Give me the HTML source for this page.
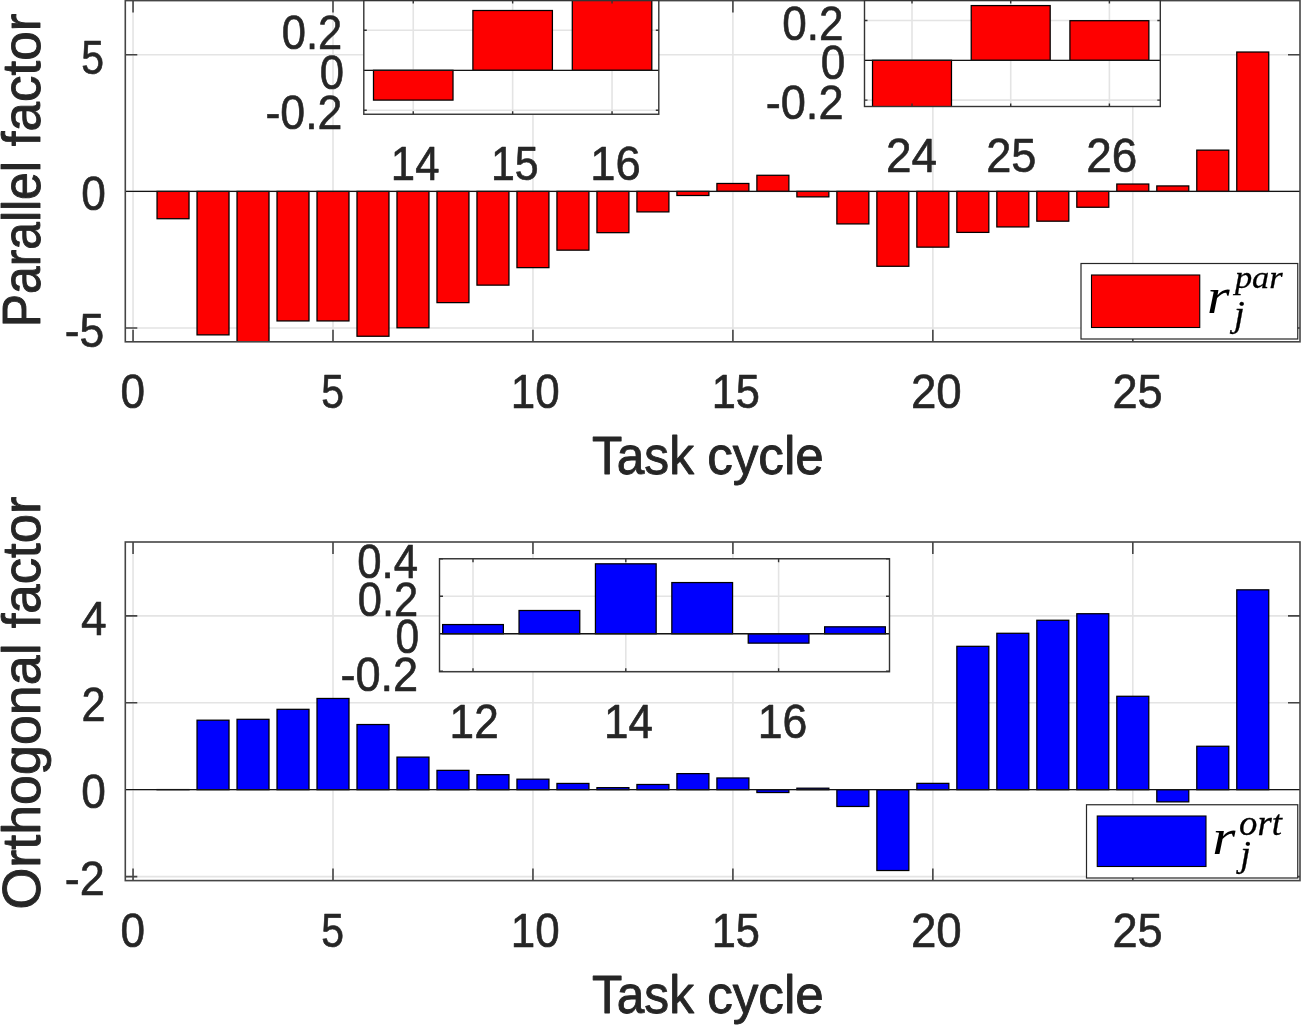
<!DOCTYPE html>
<html><head><meta charset="utf-8"><title>Parallel and orthogonal factors</title>
<style>html,body{margin:0;padding:0;background:#fff;overflow:hidden}svg{display:block}text{vector-effect:non-scaling-stroke}</style></head>
<body>
<svg width="1301" height="1025" viewBox="0 0 1301 1025" font-family='"Liberation Sans", sans-serif' fill="#262626">
<rect width="1301" height="1025" fill="#fff"/>
<clipPath id="c1"><rect x="125.30" y="0.60" width="1174.70" height="341.20"/></clipPath>
<rect x="125.30" y="0.60" width="1174.70" height="341.20" fill="#fff"/>
<path d="M133.05 0.60V341.80M333.00 0.60V341.80M532.95 0.60V341.80M732.90 0.60V341.80M932.85 0.60V341.80M1132.80 0.60V341.80M125.30 328.05H1300.00M125.30 191.40H1300.00M125.30 54.75H1300.00" stroke="#e4e4e4" stroke-width="1.60" fill="none"/>
<g clip-path="url(#c1)" fill="#fe0000" stroke="#000" stroke-width="1.25"><rect x="157.04" y="191.40" width="31.99" height="27.33"/><rect x="197.03" y="191.40" width="31.99" height="143.48"/><rect x="237.02" y="191.40" width="31.99" height="155.78"/><rect x="277.01" y="191.40" width="31.99" height="129.54"/><rect x="317.00" y="191.40" width="31.99" height="129.54"/><rect x="356.99" y="191.40" width="31.99" height="144.85"/><rect x="396.98" y="191.40" width="31.99" height="136.38"/><rect x="436.97" y="191.40" width="31.99" height="111.23"/><rect x="476.96" y="191.40" width="31.99" height="93.74"/><rect x="516.95" y="191.40" width="31.99" height="76.25"/><rect x="556.94" y="191.40" width="31.99" height="58.76"/><rect x="596.93" y="191.40" width="31.99" height="41.27"/><rect x="636.92" y="191.40" width="31.99" height="20.50"/><rect x="676.91" y="191.40" width="31.99" height="4.10"/><rect x="716.90" y="183.47" width="31.99" height="7.93"/><rect x="756.89" y="175.28" width="31.99" height="16.12"/><rect x="796.88" y="191.40" width="31.99" height="5.47"/><rect x="836.87" y="191.40" width="31.99" height="32.52"/><rect x="876.86" y="191.40" width="31.99" height="74.88"/><rect x="916.85" y="191.40" width="31.99" height="55.75"/><rect x="956.84" y="191.40" width="31.99" height="41.00"/><rect x="996.83" y="191.40" width="31.99" height="35.53"/><rect x="1036.82" y="191.40" width="31.99" height="29.79"/><rect x="1076.81" y="191.40" width="31.99" height="15.85"/><rect x="1116.80" y="184.02" width="31.99" height="7.38"/><rect x="1156.79" y="185.93" width="31.99" height="5.47"/><rect x="1196.78" y="150.13" width="31.99" height="41.27"/><rect x="1236.77" y="52.02" width="31.99" height="139.38"/></g>
<path d="M133.05 341.80v-12.00M133.05 0.60v12.00M333.00 341.80v-12.00M333.00 0.60v12.00M532.95 341.80v-12.00M532.95 0.60v12.00M732.90 341.80v-12.00M732.90 0.60v12.00M932.85 341.80v-12.00M932.85 0.60v12.00M1132.80 341.80v-12.00M1132.80 0.60v12.00M125.30 328.05h12.00M1300.00 328.05h-12.00M125.30 54.75h12.00M1300.00 54.75h-12.00" stroke="#454545" stroke-width="1.60" fill="none"/>
<path d="M125.30 191.40H1300.00" stroke="#141414" stroke-width="1.3"/>
<rect x="125.30" y="0.60" width="1174.70" height="341.20" fill="none" stroke="#454545" stroke-width="1.60"/>
<clipPath id="c2"><rect x="125.30" y="542.00" width="1174.70" height="338.60"/></clipPath>
<rect x="125.30" y="542.00" width="1174.70" height="338.60" fill="#fff"/>
<path d="M133.05 542.00V880.60M333.00 542.00V880.60M532.95 542.00V880.60M732.90 542.00V880.60M932.85 542.00V880.60M1132.80 542.00V880.60M125.30 876.60H1300.00M125.30 789.70H1300.00M125.30 702.80H1300.00M125.30 615.90H1300.00" stroke="#e4e4e4" stroke-width="1.60" fill="none"/>
<g clip-path="url(#c2)" fill="#0000fe" stroke="#000" stroke-width="1.25"><rect x="157.04" y="789.57" width="31.99" height="0.13"/><rect x="197.03" y="720.18" width="31.99" height="69.52"/><rect x="237.02" y="719.31" width="31.99" height="70.39"/><rect x="277.01" y="709.32" width="31.99" height="80.38"/><rect x="317.00" y="698.46" width="31.99" height="91.25"/><rect x="356.99" y="724.53" width="31.99" height="65.17"/><rect x="396.98" y="757.11" width="31.99" height="32.59"/><rect x="436.97" y="770.36" width="31.99" height="19.34"/><rect x="476.96" y="774.67" width="31.99" height="15.03"/><rect x="516.95" y="779.19" width="31.99" height="10.51"/><rect x="556.94" y="783.44" width="31.99" height="6.26"/><rect x="596.93" y="787.66" width="31.99" height="2.04"/><rect x="636.92" y="784.49" width="31.99" height="5.21"/><rect x="676.91" y="773.62" width="31.99" height="16.08"/><rect x="716.90" y="777.97" width="31.99" height="11.73"/><rect x="756.89" y="789.70" width="31.99" height="2.82"/><rect x="796.88" y="788.18" width="31.99" height="1.52"/><rect x="836.87" y="789.70" width="31.99" height="16.77"/><rect x="876.86" y="789.70" width="31.99" height="80.82"/><rect x="916.85" y="783.36" width="31.99" height="6.34"/><rect x="956.84" y="646.32" width="31.99" height="143.38"/><rect x="996.83" y="633.28" width="31.99" height="156.42"/><rect x="1036.82" y="620.25" width="31.99" height="169.46"/><rect x="1076.81" y="613.73" width="31.99" height="175.97"/><rect x="1116.80" y="696.28" width="31.99" height="93.42"/><rect x="1156.79" y="789.70" width="31.99" height="12.17"/><rect x="1196.78" y="746.25" width="31.99" height="43.45"/><rect x="1236.77" y="589.83" width="31.99" height="199.87"/></g>
<path d="M133.05 880.60v-12.00M133.05 542.00v12.00M333.00 880.60v-12.00M333.00 542.00v12.00M532.95 880.60v-12.00M532.95 542.00v12.00M732.90 880.60v-12.00M732.90 542.00v12.00M932.85 880.60v-12.00M932.85 542.00v12.00M1132.80 880.60v-12.00M1132.80 542.00v12.00M125.30 876.60h12.00M1300.00 876.60h-12.00M125.30 702.80h12.00M1300.00 702.80h-12.00M125.30 615.90h12.00M1300.00 615.90h-12.00" stroke="#454545" stroke-width="1.60" fill="none"/>
<path d="M125.30 789.70H1300.00" stroke="#141414" stroke-width="1.3"/>
<rect x="125.30" y="542.00" width="1174.70" height="338.60" fill="none" stroke="#454545" stroke-width="1.60"/>
<clipPath id="c3"><rect x="363.80" y="0.60" width="295.00" height="113.65"/></clipPath>
<rect x="363.80" y="0.60" width="295.00" height="113.65" fill="#fff"/>
<path d="M413.25 0.60V114.25M512.65 0.60V114.25M612.05 0.60V114.25M363.80 110.30H658.80M363.80 70.30H658.80M363.80 30.30H658.80" stroke="#e4e4e4" stroke-width="1.60" fill="none"/>
<g clip-path="url(#c3)" fill="#fe0000" stroke="#000" stroke-width="1.25"><rect x="373.49" y="70.30" width="79.52" height="29.80"/><rect x="472.89" y="10.50" width="79.52" height="59.80"/><rect x="572.29" y="-47.70" width="79.52" height="118.00"/></g>
<path d="M413.25 114.25v-3.00M413.25 0.60v3.00M512.65 114.25v-3.00M512.65 0.60v3.00M612.05 114.25v-3.00M612.05 0.60v3.00M363.80 110.30h3.00M658.80 110.30h-3.00M363.80 30.30h3.00M658.80 30.30h-3.00" stroke="#333" stroke-width="1.40" fill="none"/>
<path d="M363.80 70.30H658.80" stroke="#141414" stroke-width="1.3"/>
<rect x="363.80" y="0.60" width="295.00" height="113.65" fill="none" stroke="#333" stroke-width="1.40"/>
<clipPath id="c4"><rect x="864.50" y="0.60" width="295.80" height="105.90"/></clipPath>
<rect x="864.50" y="0.60" width="295.80" height="105.90" fill="#fff"/>
<path d="M912.00 0.60V106.50M1010.70 0.60V106.50M1109.40 0.60V106.50M864.50 100.10H1160.30M864.50 60.30H1160.30M864.50 20.50H1160.30" stroke="#e4e4e4" stroke-width="1.60" fill="none"/>
<g clip-path="url(#c4)" fill="#fe0000" stroke="#000" stroke-width="1.25"><rect x="872.52" y="60.30" width="78.96" height="115.42"/><rect x="971.22" y="5.57" width="78.96" height="54.73"/><rect x="1069.92" y="20.70" width="78.96" height="39.60"/></g>
<path d="M912.00 106.50v-3.00M912.00 0.60v3.00M1010.70 106.50v-3.00M1010.70 0.60v3.00M1109.40 106.50v-3.00M1109.40 0.60v3.00M864.50 100.10h3.00M1160.30 100.10h-3.00M864.50 20.50h3.00M1160.30 20.50h-3.00" stroke="#333" stroke-width="1.40" fill="none"/>
<path d="M864.50 60.30H1160.30" stroke="#141414" stroke-width="1.3"/>
<rect x="864.50" y="0.60" width="295.80" height="105.90" fill="none" stroke="#333" stroke-width="1.40"/>
<clipPath id="c5"><rect x="439.50" y="558.75" width="450.00" height="113.00"/></clipPath>
<rect x="439.50" y="558.75" width="450.00" height="113.00" fill="#fff"/>
<path d="M473.00 558.75V671.75M625.80 558.75V671.75M778.60 558.75V671.75M439.50 671.25H889.50M439.50 633.75H889.50M439.50 596.25H889.50M439.50 558.75H889.50" stroke="#e4e4e4" stroke-width="1.60" fill="none"/>
<g clip-path="url(#c5)" fill="#0000fe" stroke="#000" stroke-width="1.25"><rect x="442.63" y="624.56" width="60.74" height="9.19"/><rect x="519.03" y="610.50" width="60.74" height="23.25"/><rect x="595.43" y="563.81" width="60.74" height="69.94"/><rect x="671.83" y="582.56" width="60.74" height="51.19"/><rect x="748.23" y="633.75" width="60.74" height="9.38"/><rect x="824.63" y="626.81" width="60.74" height="6.94"/></g>
<path d="M473.00 671.75v-3.50M473.00 558.75v3.50M625.80 671.75v-3.50M625.80 558.75v3.50M778.60 671.75v-3.50M778.60 558.75v3.50M439.50 671.25h3.50M889.50 671.25h-3.50M439.50 596.25h3.50M889.50 596.25h-3.50M439.50 558.75h3.50M889.50 558.75h-3.50" stroke="#333" stroke-width="1.40" fill="none"/>
<path d="M439.50 633.75H889.50" stroke="#141414" stroke-width="1.3"/>
<rect x="439.50" y="558.75" width="450.00" height="113.00" fill="none" stroke="#333" stroke-width="1.40"/>
<rect x="1081.00" y="263.50" width="216.75" height="75.50" fill="#fff" stroke="#262626" stroke-width="1.2"/>
<rect x="1091.50" y="275.00" width="108.25" height="52.50" fill="#fe0000" stroke="#000" stroke-width="1.1"/>
<rect x="1086.50" y="804.75" width="211.25" height="73.25" fill="#fff" stroke="#262626" stroke-width="1.2"/>
<rect x="1097.25" y="816.00" width="108.75" height="50.50" fill="#0000fe" stroke="#000" stroke-width="1.1"/>
<g stroke="#262626" stroke-linejoin="round">
<text transform="translate(120.47 408.30) scale(0.9304 1)" font-size="47.4" stroke-width="0.60">0</text>
<text transform="translate(321.32 408.30) scale(0.8624 1)" font-size="47.4" stroke-width="0.60">5</text>
<text transform="translate(510.85 408.30) scale(0.9273 1)" font-size="47.4" stroke-width="0.60">10</text>
<text transform="translate(711.64 408.30) scale(0.9156 1)" font-size="47.4" stroke-width="0.60">15</text>
<text transform="translate(910.96 408.30) scale(0.9641 1)" font-size="47.4" stroke-width="0.60">20</text>
<text transform="translate(1112.48 408.30) scale(0.9531 1)" font-size="47.4" stroke-width="0.60">25</text>
<text transform="translate(120.47 947.20) scale(0.9304 1)" font-size="47.4" stroke-width="0.60">0</text>
<text transform="translate(321.32 947.20) scale(0.8624 1)" font-size="47.4" stroke-width="0.60">5</text>
<text transform="translate(510.85 947.20) scale(0.9273 1)" font-size="47.4" stroke-width="0.60">10</text>
<text transform="translate(711.64 947.20) scale(0.9156 1)" font-size="47.4" stroke-width="0.60">15</text>
<text transform="translate(910.96 947.20) scale(0.9641 1)" font-size="47.4" stroke-width="0.60">20</text>
<text transform="translate(1112.48 947.20) scale(0.9531 1)" font-size="47.4" stroke-width="0.60">25</text>
<text transform="translate(81.32 73.70) scale(0.8624 1)" font-size="47.4" stroke-width="0.60">5</text>
<text transform="translate(81.22 210.20) scale(0.9325 1)" font-size="47.4" stroke-width="0.60">0</text>
<text transform="translate(64.71 346.70) scale(0.9369 1)" font-size="47.4" stroke-width="0.60">-5</text>
<text transform="translate(281.74 48.95) scale(0.9169 1)" font-size="47.4" stroke-width="0.60">0.2</text>
<text transform="translate(319.74 88.70) scale(0.9198 1)" font-size="47.4" stroke-width="0.60">0</text>
<text transform="translate(265.45 129.00) scale(0.9428 1)" font-size="47.4" stroke-width="0.60">-0.2</text>
<text transform="translate(390.87 180.00) scale(0.9222 1)" font-size="47.4" stroke-width="0.60">14</text>
<text transform="translate(490.92 180.00) scale(0.9051 1)" font-size="47.4" stroke-width="0.60">15</text>
<text transform="translate(590.26 180.00) scale(0.9574 1)" font-size="47.4" stroke-width="0.60">16</text>
<text transform="translate(782.22 40.00) scale(0.9297 1)" font-size="47.4" stroke-width="0.60">0.2</text>
<text transform="translate(820.72 79.00) scale(0.9325 1)" font-size="47.4" stroke-width="0.60">0</text>
<text transform="translate(765.69 119.20) scale(0.9531 1)" font-size="47.4" stroke-width="0.60">-0.2</text>
<text transform="translate(885.95 172.30) scale(0.9692 1)" font-size="47.4" stroke-width="0.60">24</text>
<text transform="translate(986.23 172.30) scale(0.9531 1)" font-size="47.4" stroke-width="0.60">25</text>
<text transform="translate(1086.20 172.30) scale(0.9685 1)" font-size="47.4" stroke-width="0.60">26</text>
<text transform="translate(80.88 634.50) scale(0.9738 1)" font-size="47.4" stroke-width="0.60">4</text>
<text transform="translate(81.57 721.40) scale(0.9136 1)" font-size="47.4" stroke-width="0.60">2</text>
<text transform="translate(81.22 808.40) scale(0.9325 1)" font-size="47.4" stroke-width="0.60">0</text>
<text transform="translate(64.69 895.10) scale(0.9498 1)" font-size="47.4" stroke-width="0.60">-2</text>
<text transform="translate(357.23 578.40) scale(0.9220 1)" font-size="47.4" stroke-width="0.60">0.4</text>
<text transform="translate(357.74 615.80) scale(0.9169 1)" font-size="47.4" stroke-width="0.60">0.2</text>
<text transform="translate(395.52 653.10) scale(0.8987 1)" font-size="47.4" stroke-width="0.60">0</text>
<text transform="translate(340.44 690.90) scale(0.9524 1)" font-size="47.4" stroke-width="0.60">-0.2</text>
<text transform="translate(449.59 738.20) scale(0.9312 1)" font-size="47.4" stroke-width="0.60">12</text>
<text transform="translate(604.10 738.20) scale(0.9273 1)" font-size="47.4" stroke-width="0.60">14</text>
<text transform="translate(757.81 738.20) scale(0.9417 1)" font-size="47.4" stroke-width="0.60">16</text>
<text transform="translate(0 474.05)" font-size="53.3" stroke-width="0.90"><tspan x="591.97" textLength="102.00" lengthAdjust="spacingAndGlyphs">Task</tspan> <tspan x="707.15" textLength="116.68" lengthAdjust="spacingAndGlyphs">cycle</tspan></text>
<text transform="translate(0 1012.80)" font-size="53.3" stroke-width="0.90"><tspan x="591.97" textLength="102.00" lengthAdjust="spacingAndGlyphs">Task</tspan> <tspan x="707.15" textLength="116.68" lengthAdjust="spacingAndGlyphs">cycle</tspan></text>
<text transform="translate(39.95 324.00) rotate(-90)" font-size="53.3" stroke-width="0.90"><tspan x="-3.14" textLength="165.86" lengthAdjust="spacingAndGlyphs">Parallel</tspan> <tspan x="177.75" textLength="132.56" lengthAdjust="spacingAndGlyphs">factor</tspan></text>
<text transform="translate(40.15 907.70) rotate(-90)" font-size="53.3" stroke-width="0.90"><tspan x="-1.77" textLength="266.07" lengthAdjust="spacingAndGlyphs">Orthogonal</tspan> <tspan x="279.45" textLength="131.76" lengthAdjust="spacingAndGlyphs">factor</tspan></text>
</g>
<g fill="#000" stroke="#000">
<text transform="translate(1206.88 313.20) scale(1.1627 1)" font-size="50.0" stroke-width="0.00" font-family='"Liberation Serif", serif' font-style="italic">r</text>
<text transform="translate(1234.90 288.15) scale(1.0915 1)" font-size="31.5" stroke-width="0.30" font-family='"Liberation Serif", serif' font-style="italic">par</text>
<text transform="translate(1233.88 325.85) scale(1.1048 1)" font-size="35.0" stroke-width="0.30" font-family='"Liberation Serif", serif' font-style="italic">j</text>
<text transform="translate(1212.34 853.60) scale(1.1893 1)" font-size="50.0" stroke-width="0.00" font-family='"Liberation Serif", serif' font-style="italic">r</text>
<text transform="translate(1239.08 834.85) scale(1.0503 1)" font-size="35.0" stroke-width="0.30" font-family='"Liberation Serif", serif' font-style="italic">ort</text>
<text transform="translate(1240.22 865.85) scale(1.0895 1)" font-size="35.0" stroke-width="0.30" font-family='"Liberation Serif", serif' font-style="italic">j</text>
</g>
</svg>
</body></html>
